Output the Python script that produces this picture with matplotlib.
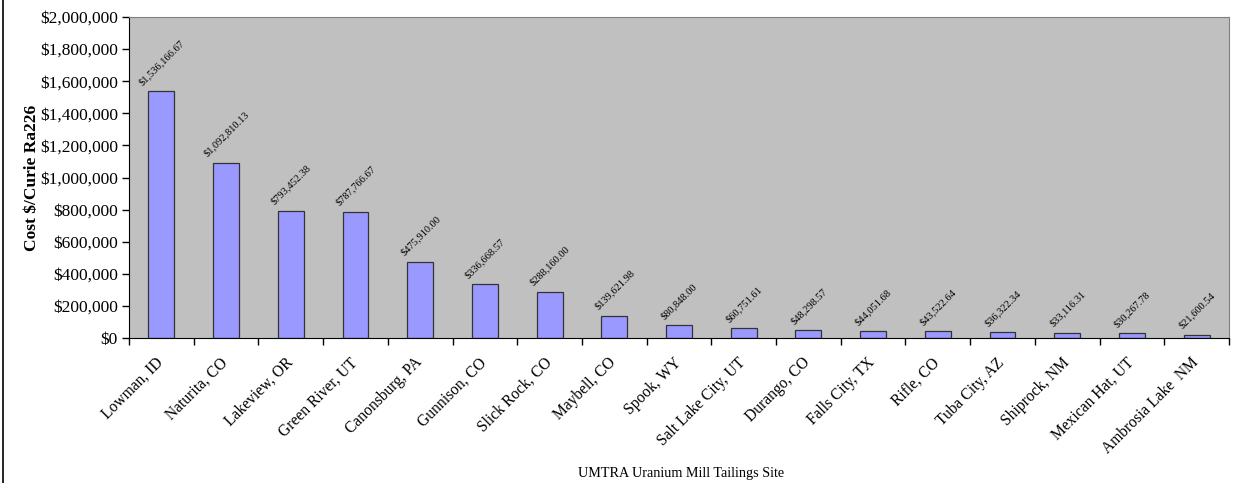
import matplotlib
matplotlib.use("Agg")
import matplotlib.pyplot as plt
from matplotlib.transforms import ScaledTranslation
import numpy as np

sites = ["Lowman, ID", "Naturita, CO", "Lakeview, OR", "Green River, UT",
         "Canonsburg, PA", "Gunnison, CO", "Slick Rock, CO", "Maybell, CO",
         "Spook, WY", "Salt Lake City, UT", "Durango, CO", "Falls City, TX",
         "Rifle, CO", "Tuba City, AZ", "Shiprock, NM", "Mexican Hat, UT",
         "Ambrosia Lake  NM"]
cost = [1536166.67, 1092810.13, 793452.38, 787766.67, 475910.00, 336668.57,
        288160.00, 139621.98, 80848.00, 60751.61, 48298.57, 44051.68,
        43522.64, 36322.34, 33116.31, 30267.78, 21600.54]
yticks = np.arange(0, 2000001, 200000)

plt.rcParams['font.family'] = ['Liberation Serif', 'DejaVu Serif']

fig = plt.figure(figsize=(12.33, 4.83), dpi=100)
ax = fig.add_axes([129/1233, 1 - 338/483, 1100/1233, 321/483])
ax.set_facecolor('#C0C0C0')

x = np.arange(len(sites))
ax.bar(x, cost, width=0.4, color='#9999FF', edgecolor='#333333', linewidth=0.9)

for xi, v in zip(x, cost):
    ax.annotate("${:,.2f}".format(v), (xi, v), xytext=(0, 3), textcoords='offset points',
                ha='center', va='bottom', rotation=45, fontsize=7.5)

ax.set_xlim(-0.5, len(sites) - 0.5)
ax.set_ylim(0, 2000000)
ax.set_yticks(yticks)
ax.set_yticklabels(["${:,.0f}".format(t) for t in yticks], fontsize=12.5)
ax.tick_params(axis='y', direction='out', length=5, width=1, pad=3)

ax.set_xticks(x)
ax.set_xticklabels(sites, rotation=45, ha='right', rotation_mode='anchor', fontsize=11.2)
ax.tick_params(axis='x', which='major', length=0, pad=12)
ax.set_xticks(np.arange(len(sites) + 1) - 0.5, minor=True)
ax.tick_params(axis='x', which='minor', direction='out', length=5, width=1)
shift = ScaledTranslation(-6/100, 0, fig.dpi_scale_trans)
for lbl in ax.get_xticklabels():
    lbl.set_transform(lbl.get_transform() + shift)

for s in ['top', 'right']:
    ax.spines[s].set_color('#808080')
for s in ['left', 'bottom']:
    ax.spines[s].set_color('black')

ax.set_ylabel("Cost $/Curie Ra226", fontsize=12.5, fontweight='bold')
ax.yaxis.set_label_coords(-0.081, 0.5)
fig.text(681/1233, 1 - 473/483, "UMTRA Uranium Mill Tailings Site", ha='center', va='center', fontsize=10.2)

fig.add_artist(plt.Line2D([2.5/1233, 2.5/1233], [0, 1], color='black', linewidth=1.2,
                          transform=fig.transFigure))

fig.savefig('out.png', dpi=100)
